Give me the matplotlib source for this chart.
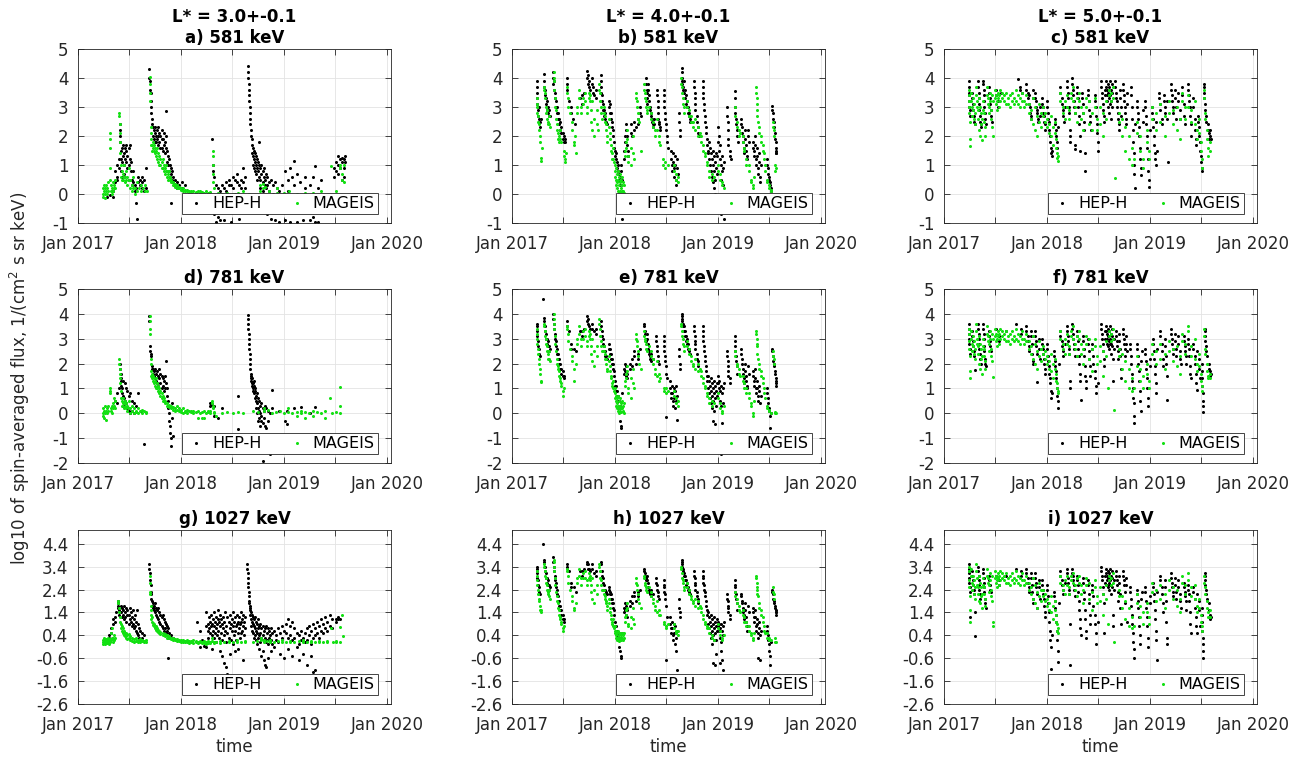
import datetime as dt
import matplotlib
matplotlib.use('Agg')
import matplotlib.pyplot as plt
import matplotlib.dates as mdates

plt.rcParams['font.family'] = 'DejaVu Sans'
plt.rcParams['axes.unicode_minus'] = False

# each row: (years since 1 Jan 2017, log10 flux values read at that time ...)
A_HEP = [
    (0.28, -0.1), (0.31, -0.05), (0.34, -0.1, 0.1),
    (0.36, 0.4, 0.8), (0.38, 0.5, 1.0, 0.6), (0.40, 1.2, 0.9),
    (0.41, 2.4, 2.2, 2.0, 1.8),
    (0.42, 1.5, 1.2, 0.8), (0.43, 1.6, 1.1, 0.6), (0.44, 1.7, 1.3), (0.45, 1.4, 1.0, 0.7), (0.46, 1.6, 1.2),
    (0.47, 1.7, 1.5, 1.1), (0.48, 1.3, 0.9), (0.49, 1.6, 1.0, 0.5), (0.50, 1.7, 1.2), (0.51, 1.1, 0.8),
    (0.52, 0.5, 0.3), (0.53, 0.8, 0.4), (0.55, 0.3, 0.1), (0.56, -0.3, 0.2), (0.57, -0.85), (0.58, 0.6, 0.4),
    (0.60, 0.5, 0.3), (0.62, 0.4, 0.6, 0.2), (0.64, 0.5, 0.1), (0.66, 0.2, 0.9),
    (0.69, 4.3, 4.0), (0.70, 3.9, 3.6), (0.705, 3.5, 3.2), (0.71, 3.0, 2.8), (0.72, 2.6, 2.4),
    (0.73, 2.3, 2.0), (0.74, 2.2, 1.9), (0.75, 2.1, 1.8, 2.3), (0.76, 2.0, 1.8), (0.77, 2.2, 1.9),
    (0.78, 2.3, 2.0, 1.7), (0.79, 2.1, 1.8), (0.80, 2.0, 1.6), (0.81, 2.2, 1.9, 1.6), (0.82, 1.9, 1.5),
    (0.83, 2.1, 1.7), (0.84, 1.8, 1.4), (0.85, 2.85, 2.0, 1.6),
    (0.86, 1.5, 1.1), (0.87, 1.3, 1.0), (0.88, 1.2, 0.8), (0.89, 1.0, 0.6), (0.90, -0.3, 0.7, 0.9),
    (0.91, 0.5, 0.8), (0.92, 0.4, 0.6), (0.94, 0.3, 0.5), (0.96, 0.4, 0.2), (0.98, 0.3), (1.01, 0.2, 0.4), (1.04, 0.3),
    (1.30, 1.9), (1.31, 1.0, 0.8), (1.32, 0.6, -0.7), (1.34, 0.3, -0.95), (1.36, 0.2, -0.8),
    (1.38, 0.1, -0.9), (1.40, 0.3), (1.42, 0.2, -0.9), (1.44, 0.4, 0.1), (1.46, 0.5, 0.3), (1.48, 0.3, -0.95),
    (1.50, 0.6, 0.2), (1.52, 0.5, 0.0), (1.54, 0.7, 0.4), (1.56, 0.3, -0.85), (1.58, 0.5, 0.2), (1.60, 0.9, 0.4),
    (1.62, 0.2, 0.6),
    (1.65, 4.4, 4.2, 4.0), (1.655, 3.8, 3.6), (1.66, 3.4, 3.2), (1.665, 3.0, 2.8), (1.67, 2.6, 2.4),
    (1.68, 2.2, 2.0), (1.69, 1.9, 1.7, 1.4), (1.70, 1.6, 1.3, 1.0), (1.71, 1.5, 1.2, 0.9), (1.72, 1.4, 1.1, 0.8),
    (1.73, 1.3, 1.0, 0.7), (1.74, 1.2, 0.9, 0.5), (1.75, 1.1, 0.8), (1.76, 1.8, 1.0, 0.6), (1.77, 0.9, 0.5, 0.2),
    (1.78, 1.0, 0.7), (1.79, 0.8, 0.4, 0.1), (1.80, 0.9, 0.6), (1.81, 0.5, 0.3), (1.82, 0.7, 0.2),
    (1.83, 0.6, 0.3, -0.7), (1.85, 0.4, 0.1), (1.87, 0.5, -0.85), (1.89, 0.3, 0.0), (1.91, 0.4, -0.9),
    (1.93, 0.2), (1.95, -0.95, 0.1),
    (1.98, 0.3), (2.01, 0.8, -0.9), (2.04, 0.5, 0.1), (2.06, 0.9, -0.95), (2.08, 0.6), (2.10, 1.15, 0.3),
    (2.12, 0.7, -0.95), (2.15, 0.4), (2.18, -0.9), (2.20, 0.6, 0.2), (2.25, -0.9, 0.3), (2.28, 0.6, -0.8),
    (2.30, 0.95, -0.95), (2.33, 0.2, -0.95), (2.36, 0.5),
    (2.48, 0.6, 0.9), (2.50, 1.1, 0.8), (2.52, 1.3, 1.0, 0.7), (2.54, 1.2, 0.9), (2.56, 1.25, 1.1, 0.5),
    (2.58, 1.2, 0.9, 0.6), (2.59, 1.3, 1.1),
]
A_MAG = [
    (0.24, 0.2, 0.0, -0.1), (0.25, 0.3, 0.1), (0.26, 0.0, 0.2, -0.15), (0.27, 0.1, 0.3), (0.28, 0.0, 0.2),
    (0.29, 0.4, 0.1), (0.31, 2.1, 1.9, 1.6, 0.9, 0.5), (0.32, 0.3, 0.1), (0.33, 0.2, 0.0), (0.34, 0.4, 0.1),
    (0.35, 0.3, 0.2), (0.36, 0.5, 0.2),
    (0.40, 2.8, 2.7), (0.405, 2.4, 2.1), (0.41, 1.8, 1.4), (0.42, 1.0, 0.6),
    (0.43, 0.8, 0.5), (0.44, 0.7, 0.5), (0.45, 1.0, 0.6), (0.46, 0.6, 0.4), (0.47, 0.8, 0.5), (0.48, 0.6, 0.3),
    (0.49, 0.9, 0.5), (0.50, 0.5, 0.2), (0.52, 0.3, 0.1), (0.53, 0.6, 0.2), (0.55, 0.2, 0.0), (0.57, 0.4, 0.1),
    (0.59, 0.2), (0.61, 0.3, 0.1), (0.63, 0.2), (0.65, 0.1, 0.3), (0.67, 0.1),
    (0.695, 4.05, 3.8), (0.70, 3.5, 3.2), (0.705, 2.3, 2.1), (0.71, 1.9, 1.7),
    (0.72, 1.7, 1.5), (0.73, 1.6, 1.8), (0.74, 1.5, 1.7), (0.75, 1.6, 1.4), (0.76, 1.5, 1.3), (0.77, 1.6, 1.2),
    (0.78, 1.4, 1.1), (0.79, 1.3, 1.0), (0.80, 1.2, 1.0), (0.81, 1.1, 0.9), (0.82, 1.2, 0.9), (0.83, 1.0, 0.8),
    (0.84, 0.9, 0.7), (0.85, 1.0, 0.8), (0.86, 0.8, 0.6), (0.87, 0.7, 0.5), (0.88, 0.8, 0.6), (0.89, 0.6, 0.5),
    (0.90, 0.5, 0.4), (0.92, 0.4, 0.3), (0.94, 0.35, 0.25), (0.96, 0.3, 0.2), (0.98, 0.25, 0.2), (1.00, 0.2, 0.15),
    (1.02, 0.2, 0.1), (1.04, 0.15, 0.1), (1.06, 0.15, 0.1), (1.08, 0.1, 0.05), (1.10, 0.12, 0.05), (1.12, 0.1),
    (1.14, 0.08, 0.05), (1.16, 0.1), (1.18, 0.05, 0.1), (1.20, 0.08), (1.22, 0.05), (1.24, 0.1), (1.26, 0.05),
    (1.28, 0.08), (1.305, 1.5, 1.3, 1.0), (1.31, 0.7, 0.4), (1.32, 0.2),
    (1.36, 0.05), (1.40, 0.0), (1.45, 0.05), (1.50, 0.0), (1.55, 0.05), (1.60, 0.1), (1.66, 0.0),
    (1.77, 0.3, 0.1), (1.79, 0.35, 0.2), (1.81, 0.25), (1.85, 0.1), (1.93, 0.2, 0.05), (2.00, 0.05),
    (2.05, 0.1), (2.12, 0.0), (2.20, 0.05), (2.28, 0.05), (2.36, 0.1),
    (2.45, 0.95), (2.50, 0.1), (2.54, 1.0, 0.9), (2.56, 0.7, 0.5), (2.58, 1.0, 0.4),
]

B_HEP = [
    (0.24, 3.9, 3.7, 3.5), (0.245, 3.3, 3.1), (0.25, 2.9, 2.7), (0.26, 3.0, 2.6), (0.27, 2.5, 2.3), (0.28, 2.6),
    (0.31, 4.15, 3.9, 3.7), (0.32, 3.6, 3.4), (0.33, 3.3, 3.1), (0.34, 3.2, 2.9), (0.35, 3.0, 2.8),
    (0.36, 2.9, 2.7), (0.37, 2.7),
    (0.40, 4.2, 4.0, 3.8), (0.41, 3.9, 3.6), (0.42, 3.5, 3.3), (0.43, 3.2, 3.0), (0.44, 3.0, 2.8),
    (0.45, 2.8, 2.6), (0.46, 2.6, 2.4), (0.47, 2.5, 2.2), (0.48, 2.3, 2.1), (0.49, 2.1, 1.9), (0.50, 2.0, 1.8),
    (0.51, 1.9, 1.8),
    (0.535, 4.0, 3.8, 3.6), (0.55, 3.2), (0.57, 3.0, 2.8), (0.59, 2.6), (0.61, 2.4),
    (0.66, 3.3), (0.68, 3.1, 3.4), (0.70, 3.5),
    (0.73, 4.25, 4.0), (0.74, 4.1, 3.8), (0.75, 3.9, 3.7), (0.76, 3.6),
    (0.78, 4.0, 3.8), (0.79, 3.7, 3.5), (0.80, 3.4), (0.81, 3.6, 3.3),
    (0.86, 4.1, 3.9), (0.865, 3.7, 3.5), (0.87, 3.4, 3.2), (0.88, 3.1, 2.9), (0.89, 2.9, 2.7), (0.90, 2.8, 2.6),
    (0.91, 2.5), (0.92, 2.4),
    (0.94, 3.2, 3.0), (0.95, 3.1, 2.8), (0.96, 2.8, 2.6), (0.97, 2.5, 2.3), (0.98, 2.2, 2.0), (0.99, 1.8, 1.6),
    (1.00, 1.5, 1.3), (1.01, 1.4, 1.2), (1.02, 1.1, 0.9), (1.03, 1.0, 0.8), (1.04, 0.7, 0.5), (1.05, 0.6, 0.3),
    (1.06, 0.8, 1.0), (1.07, -0.85, 0.5),
    (1.09, 1.5, 1.2), (1.10, 2.0, 1.8), (1.11, 2.4, 2.2), (1.12, 2.0, 1.7), (1.13, 1.5, 1.3), (1.15, 2.4, 2.1),
    (1.16, 2.0), (1.18, 2.5, 2.2), (1.20, 2.3), (1.22, 2.6, 2.4), (1.24, 3.0, 2.8), (1.25, 2.7),
    (1.30, 4.0, 3.8), (1.305, 3.6, 3.5), (1.31, 3.3, 3.1), (1.32, 3.8, 3.6), (1.33, 3.4, 3.2), (1.34, 3.0, 2.9),
    (1.35, 2.8, 2.7), (1.36, 2.6, 2.5), (1.37, 2.4, 2.3), (1.38, 2.6, 2.4),
    (1.41, 3.6, 3.4), (1.415, 3.2, 3.0), (1.42, 2.8, 2.6), (1.43, 2.5, 2.4), (1.44, 2.3, 2.2),
    (1.47, 3.6, 3.4), (1.475, 3.2, 3.0), (1.48, 2.8, 2.6), (1.49, 2.4, 2.2), (1.50, 2.0, 1.8), (1.51, 1.6),
    (1.54, 1.5, 1.2), (1.55, 1.0, 0.8), (1.56, 1.4, 1.1), (1.57, 0.9, 0.6), (1.58, 1.3, 1.0), (1.59, 0.5, 0.3),
    (1.60, 1.2, 0.9), (1.61, 0.7), (1.62, 2.8, 2.5), (1.63, 2.2, 2.0),
    (1.645, 4.35, 4.2, 4.0), (1.65, 3.9, 3.8), (1.66, 3.7, 3.6), (1.67, 3.9, 3.5), (1.68, 3.6, 3.3),
    (1.69, 3.4, 3.1), (1.70, 3.2, 3.0), (1.71, 3.0, 2.8), (1.72, 2.8, 2.7), (1.73, 2.6, 2.5), (1.74, 2.5),
    (1.77, 3.9, 3.7), (1.775, 3.5, 3.3), (1.78, 3.1, 2.9), (1.79, 2.7, 2.5), (1.80, 2.3, 2.1), (1.81, 2.0),
    (1.85, 3.9, 3.7), (1.855, 3.5, 3.3), (1.86, 3.1, 2.9), (1.87, 2.7, 2.5), (1.88, 2.3, 2.1), (1.89, 1.9, 1.7),
    (1.90, 1.5, 1.4), (1.91, 1.8, 1.2), (1.92, 1.6, 1.0), (1.93, 1.4, 0.8), (1.94, 1.2, 0.6),
    (1.95, 1.5, 1.0, 0.4), (1.96, 1.3, 0.8, 0.2), (1.97, 1.1, 0.5, 0.0), (1.98, 1.4, 0.9), (1.99, 1.3, 0.7),
    (2.00, 2.3, 1.8), (2.01, 2.0, 1.5), (2.02, 1.7, 1.2), (2.03, 1.0, 0.5, -0.7), (2.04, 1.3, 0.8),
    (2.05, 0.9, 0.3), (2.06, -0.85, 1.1),
    (2.09, 3.0, 2.7), (2.095, 2.5, 2.2), (2.10, 1.9, 1.7), (2.11, 1.5, 1.3), (2.12, 1.2),
    (2.16, 3.55, 3.3), (2.165, 3.0, 2.8), (2.17, 2.6, 2.4), (2.18, 2.2, 2.0), (2.19, 1.8),
    (2.22, 2.6, 2.4), (2.23, 2.3, 2.1), (2.24, 2.0, 1.8), (2.25, 1.6, 1.4), (2.26, 2.2, 1.9), (2.27, 1.7, 1.5),
    (2.28, 1.3, 1.2), (2.29, 2.2, 2.0), (2.30, 1.8),
    (2.34, 1.8, 1.6), (2.35, 1.5, 1.3), (2.36, 2.0, 1.7), (2.37, 1.2, 1.0), (2.38, 1.6, 1.3), (2.39, 0.9, 0.7),
    (2.40, 1.4, 1.1), (2.41, 0.6, 0.4), (2.42, 1.0),
    (2.47, 1.2, 1.0), (2.48, 0.9, 0.7), (2.49, 0.6, 0.5), (2.50, 0.4, 0.3), (2.51, 0.2, 0.1),
    (2.52, 3.05, 2.9), (2.53, 2.8, 2.6), (2.54, 2.5, 2.3), (2.55, 2.1, 1.9), (2.56, 1.8, 1.6, 1.4),
    (2.565, 1.5, 1.4),
]
B_MAG = [
    (0.24, 3.3, 3.1), (0.245, 3.0, 2.8), (0.25, 2.7, 2.5), (0.26, 2.4, 2.2), (0.27, 2.0, 1.8), (0.28, 1.25, 1.15),
    (0.29, 1.6),
    (0.31, 3.7, 3.6), (0.32, 3.5, 3.3), (0.33, 3.0, 2.8), (0.34, 2.9, 2.6), (0.35, 2.5, 2.4), (0.36, 2.7, 2.4),
    (0.37, 2.3),
    (0.405, 4.2, 4.0), (0.41, 3.9, 3.6), (0.42, 3.3, 3.0), (0.43, 2.9, 2.6),
    (0.44, 2.4, 2.2), (0.45, 2.1, 1.9), (0.46, 2.0, 1.8), (0.47, 2.2, 1.9), (0.48, 1.8), (0.50, 1.5, 1.3),
    (0.51, 1.2, 1.1), (0.52, 1.4),
    (0.535, 3.7, 3.5), (0.54, 3.3, 3.0), (0.56, 2.8), (0.58, 2.5, 2.2), (0.60, 1.8, 1.7), (0.61, 2.0), (0.62, 1.4),
    (0.63, 3.0, 2.8), (0.65, 3.6, 3.3), (0.67, 3.0, 2.8), (0.69, 3.3, 3.1), (0.71, 3.5, 3.2), (0.73, 3.0, 2.8),
    (0.75, 3.5, 3.3), (0.76, 3.4, 3.2), (0.77, 2.9, 2.5), (0.78, 3.2, 2.2), (0.80, 2.6, 2.0), (0.82, 2.9, 2.4),
    (0.83, 2.2),
    (0.84, 3.8, 3.6), (0.85, 3.5, 3.2), (0.86, 3.0, 2.8), (0.87, 2.6),
    (0.89, 3.0, 2.8), (0.90, 2.7, 2.5), (0.91, 2.4, 2.2), (0.92, 2.0, 1.8), (0.94, 2.6, 2.3), (0.95, 2.1, 1.9),
    (0.96, 1.7, 1.5), (0.97, 1.4, 1.2), (0.98, 1.6, 1.2), (0.99, 1.1),
    (1.00, 1.0, 0.8, 0.6), (1.01, 0.9, 0.5, 0.3), (1.02, 0.7, 0.4, 0.2), (1.03, 0.8, 0.5, 0.1),
    (1.04, 0.6, 0.3, 0.05), (1.05, 0.7, 0.4, 0.1), (1.06, 0.5, 0.2, 0.05), (1.07, 0.6, 0.3, 0.1),
    (1.08, 0.4, 0.1), (1.09, 0.3, 0.05),
    (1.10, 1.5, 1.3), (1.11, 1.8, 1.6), (1.12, 2.2, 1.9), (1.13, 1.3, 1.1), (1.15, 1.0, 1.6), (1.17, 2.0, 1.4),
    (1.18, 1.2),
    (1.20, 3.5, 3.3), (1.21, 3.2, 3.0), (1.22, 2.8, 2.6), (1.23, 2.5), (1.25, 1.5),
    (1.28, 3.8, 3.6), (1.29, 3.5, 3.3), (1.30, 3.2, 3.0), (1.31, 2.9, 2.8), (1.33, 3.0),
    (1.35, 2.8, 2.6), (1.37, 2.5, 2.3), (1.39, 2.2, 2.0), (1.41, 2.6, 2.2), (1.43, 1.8, 2.0), (1.44, 1.7),
    (1.46, 1.2, 1.0), (1.48, 0.9, 1.1), (1.51, 1.0),
    (1.57, 1.0, 0.8), (1.59, 0.7, 0.5), (1.61, 0.4, 0.6),
    (1.64, 4.0, 3.8), (1.65, 3.7, 3.5), (1.66, 3.3, 3.1), (1.67, 3.0, 2.8),
    (1.70, 3.2, 3.0), (1.72, 2.9, 2.7), (1.74, 2.7, 2.5), (1.76, 2.5, 2.3), (1.78, 2.6, 2.2), (1.80, 2.0, 2.3),
    (1.82, 2.1),
    (1.83, 2.0, 1.8), (1.85, 1.7, 1.5), (1.87, 1.4, 1.3), (1.89, 1.1, 1.0),
    (1.91, 0.8, 0.6), (1.94, 0.7, 0.5), (1.96, 0.6),
    (2.00, 1.0, 0.8), (2.02, 0.7, 0.5), (2.04, 0.4, 0.3), (2.06, 0.2),
    (2.16, 3.0, 2.7), (2.18, 2.5, 2.3), (2.20, 2.2, 2.0), (2.21, 2.1),
    (2.24, 2.0, 1.8), (2.25, 1.6, 1.5), (2.27, 1.0, 1.2),
    (2.30, 1.0, 0.8), (2.32, 0.5, 0.4), (2.34, 0.3, 0.2), (2.35, 0.6),
    (2.37, 3.7, 3.5), (2.375, 3.3, 3.1), (2.38, 2.9, 2.7), (2.39, 2.5),
    (2.40, 2.3, 2.1), (2.42, 2.0, 1.8), (2.43, 1.7, 1.5), (2.44, 1.4, 1.2), (2.45, 1.0, 0.8),
    (2.47, 0.5, 0.4), (2.49, 0.3, 0.2), (2.51, 0.1, 0.15),
    (2.53, 2.5, 2.3), (2.54, 2.2, 2.0), (2.55, 1.0, 0.8), (2.56, 0.9),
]

C_HEP = [
    (0.24, 3.9, 3.7, 3.5), (0.245, 3.4, 3.2, 3.0), (0.25, 2.9, 2.7),
    (0.27, 3.5, 3.3), (0.28, 3.1, 2.9), (0.29, 2.7, 2.5), (0.30, 2.4),
    (0.33, 3.9, 3.7), (0.335, 3.5, 3.3), (0.34, 3.1, 2.9), (0.35, 2.7, 2.5), (0.36, 2.4, 2.3),
    (0.38, 3.9, 3.8), (0.385, 3.6, 3.4), (0.39, 3.2, 3.0), (0.40, 2.8, 2.6), (0.41, 2.4),
    (0.44, 3.7, 3.5), (0.45, 3.3, 3.1), (0.46, 2.9, 2.7), (0.47, 2.5),
    (0.50, 3.6, 3.4), (0.52, 3.2, 3.0), (0.55, 3.5),
    (0.72, 3.95), (0.74, 3.7, 3.6), (0.76, 3.5),
    (0.80, 3.8, 3.6), (0.81, 3.5, 3.3), (0.82, 3.4, 3.1), (0.83, 3.0, 2.8), (0.84, 2.7, 2.6), (0.86, 3.6, 3.3),
    (0.88, 3.5, 3.3), (0.89, 3.2, 3.0), (0.90, 2.9, 2.8), (0.91, 2.6, 2.5), (0.93, 3.0, 2.7),
    (0.95, 3.3, 3.1), (0.96, 3.0, 2.8), (0.97, 2.7, 2.5), (0.98, 2.4, 2.2),
    (1.00, 3.2, 3.0), (1.01, 2.8, 2.6), (1.02, 2.5, 2.2), (1.03, 2.0, 1.8), (1.04, 1.6, 1.4), (1.05, 1.3, 1.5),
    (1.08, 2.6, 2.4), (1.09, 2.2, 2.0), (1.10, 1.8, 1.6), (1.11, 2.3),
    (1.13, 3.7, 3.5), (1.14, 3.3, 3.1), (1.15, 2.9, 2.7), (1.16, 2.5), (1.17, 3.0),
    (1.19, 3.9, 3.7), (1.20, 3.5, 3.3), (1.21, 3.0, 2.8), (1.22, 2.2, 2.0, 1.8),
    (1.24, 4.0, 3.8), (1.25, 3.6, 3.4), (1.26, 3.2, 3.0), (1.27, 2.8, 1.55, 1.7),
    (1.29, 3.7, 3.5), (1.30, 3.3, 3.0), (1.31, 2.7, 2.4), (1.32, 2.0, 1.5),
    (1.34, 3.5, 3.3), (1.35, 3.1, 2.8), (1.36, 2.5, 2.2), (1.37, 1.4, 0.8),
    (1.40, 3.6, 3.4), (1.41, 3.2, 2.9), (1.42, 2.7, 2.5), (1.43, 2.2),
    (1.46, 3.4, 3.2), (1.47, 3.0, 2.7), (1.48, 2.4, 2.1), (1.49, 1.8, 1.5),
    (1.52, 3.9, 3.7), (1.53, 3.5, 3.3), (1.54, 3.1, 2.9), (1.55, 2.7, 2.5), (1.56, 3.6, 3.4),
    (1.57, 3.9, 3.7), (1.58, 3.6, 3.4, 3.2), (1.59, 3.8, 3.5, 3.0), (1.60, 3.7, 3.3, 2.8),
    (1.61, 3.9, 3.4, 3.1), (1.62, 3.6, 3.2, 2.6), (1.63, 3.8, 3.5, 3.0),
    (1.66, 3.9, 3.7), (1.67, 3.5, 3.3), (1.68, 3.2, 3.0), (1.69, 2.8, 2.6), (1.70, 2.4, 2.2), (1.71, 3.6, 3.3),
    (1.72, 3.0, 2.7),
    (1.74, 3.8, 3.6), (1.75, 3.4, 3.2), (1.76, 3.0, 2.8), (1.77, 2.6, 2.4), (1.78, 3.5, 3.1),
    (1.81, 3.7, 3.4), (1.82, 3.0, 2.6), (1.83, 2.2, 1.8), (1.84, 1.4, 1.0, 0.7), (1.85, 0.2, 2.4),
    (1.87, 3.2, 3.0), (1.88, 2.8, 2.6), (1.89, 2.3, 2.0), (1.90, 1.6, 1.2), (1.91, 0.9, 0.65), (1.93, 2.9, 2.5),
    (1.95, 3.2, 3.0), (1.96, 2.7, 2.4), (1.97, 2.0, 1.6), (1.98, 1.2, 0.8), (1.99, 0.5, 0.25), (2.00, 2.2),
    (2.02, 3.0, 2.8), (2.03, 2.6, 2.3), (2.04, 2.0, 1.7), (2.05, 1.4, 1.2), (2.06, 1.0, 2.5), (2.07, 1.5),
    (2.09, 3.5, 3.3), (2.10, 3.1, 2.9), (2.11, 2.6, 2.4), (2.13, 3.4, 3.2), (2.14, 3.0, 2.8), (2.16, 3.2, 2.6),
    (2.17, 1.1),
    (2.20, 3.8, 3.6), (2.21, 3.4, 3.2), (2.22, 3.0, 2.8), (2.24, 3.6, 3.3), (2.25, 3.0, 2.6), (2.27, 3.5, 3.2),
    (2.29, 2.9, 2.6), (2.31, 3.7, 3.4), (2.33, 3.1, 2.7), (2.34, 2.4),
    (2.37, 3.8, 3.6), (2.38, 3.4, 3.2), (2.39, 3.0, 2.7), (2.40, 2.4, 2.0), (2.42, 3.3, 3.0), (2.43, 2.6, 2.2),
    (2.44, 1.9, 1.7),
    (2.46, 2.7, 2.5), (2.47, 2.3, 2.0), (2.48, 1.8, 1.5), (2.49, 1.3, 1.1), (2.50, 0.9, 0.8),
    (2.52, 3.8, 3.7), (2.525, 3.5, 3.3), (2.53, 3.1, 2.9), (2.54, 2.7, 2.5),
    (2.56, 2.4, 2.2), (2.57, 2.1, 1.9), (2.58, 2.2, 2.0), (2.59, 1.9),
]
C_MAG = [
    (0.24, 3.6, 3.4, 3.2), (0.245, 3.0, 2.8), (0.25, 2.5, 1.9, 1.65), (0.26, 3.5, 3.2), (0.27, 3.0, 2.7),
    (0.28, 3.3, 2.9), (0.29, 3.1, 2.6), (0.30, 2.8, 2.4),
    (0.31, 3.7, 3.4), (0.32, 3.2, 3.0), (0.33, 2.9, 2.6), (0.34, 3.3, 2.2), (0.35, 3.0, 2.0), (0.36, 2.8, 2.4),
    (0.37, 2.6, 1.85), (0.38, 3.2, 2.9), (0.39, 2.8, 2.5), (0.40, 2.3, 2.0),
    (0.42, 3.7, 3.4), (0.43, 3.3, 3.1), (0.44, 3.0, 2.8), (0.45, 3.5, 3.2), (0.46, 2.9, 2.6), (0.47, 3.4, 2.3),
    (0.48, 3.2, 2.0), (0.49, 3.6, 3.3), (0.50, 3.4, 3.1), (0.51, 3.2, 2.9), (0.52, 3.5, 3.3), (0.53, 3.4, 3.0),
    (0.54, 3.6, 3.2),
    (0.56, 3.5, 3.3), (0.58, 3.4, 3.2), (0.60, 3.5, 3.1), (0.62, 3.3, 3.1), (0.64, 3.4, 3.0), (0.66, 3.5, 3.2),
    (0.68, 3.3, 3.1), (0.70, 3.6, 3.2), (0.72, 3.4, 3.1), (0.74, 3.3, 3.0), (0.76, 3.5, 3.2), (0.78, 3.2, 3.0),
    (0.80, 3.4, 3.1), (0.82, 3.1, 2.8), (0.84, 2.9, 2.6), (0.86, 3.3, 2.4), (0.88, 3.0, 2.2), (0.90, 2.7, 2.0),
    (0.92, 3.1, 2.5), (0.94, 2.8, 2.3),
    (0.96, 3.0, 2.7), (0.98, 2.8, 2.5), (1.00, 2.6, 2.3), (1.02, 2.4, 2.1), (1.04, 2.7, 2.0), (1.06, 2.3, 1.7),
    (1.08, 2.5, 2.1), (1.09, 1.9, 1.6), (1.10, 1.4, 1.25), (1.11, 1.15, 1.3),
    (1.13, 3.5, 3.2), (1.15, 3.0, 2.8), (1.17, 3.2, 2.6), (1.19, 3.4, 3.0), (1.21, 2.9, 2.6), (1.23, 3.5, 3.3),
    (1.25, 3.7, 3.2), (1.27, 3.0, 2.8), (1.29, 3.3, 2.5),
    (1.31, 3.5, 3.2), (1.33, 3.0, 2.6), (1.35, 2.8, 2.2), (1.38, 3.3, 3.0), (1.41, 3.2, 2.4), (1.44, 2.8, 2.2),
    (1.46, 3.3, 3.0), (1.48, 2.6, 2.2), (1.51, 3.0, 2.4), (1.54, 2.8, 2.0), (1.57, 3.2, 2.6),
    (1.60, 3.6, 3.4), (1.62, 3.5, 3.2), (1.64, 3.7, 3.3), (1.66, 0.55),
    (1.70, 2.8, 2.5), (1.73, 2.6, 2.0), (1.76, 2.3, 1.5), (1.79, 2.0, 1.2), (1.82, 1.6, 1.0), (1.84, 1.2),
    (1.87, 2.5, 2.1), (1.90, 2.0, 1.5), (1.93, 1.2, 0.9), (1.97, 2.2, 1.8), (1.99, 1.5, 1.2),
    (2.02, 3.0, 2.6), (2.06, 2.8, 2.2), (2.10, 3.1, 2.5), (2.14, 2.7, 2.0), (2.18, 3.2, 2.8), (2.22, 2.9, 2.4),
    (2.26, 3.0, 2.2), (2.29, 2.6, 1.9),
    (2.31, 3.5, 3.2), (2.34, 3.0, 2.6), (2.37, 3.4, 3.0), (2.40, 2.9, 2.5), (2.43, 3.2, 2.4), (2.45, 2.2, 1.9),
    (2.47, 2.6, 2.1), (2.49, 1.8, 1.5),
    (2.50, 1.2, 0.9), (2.52, 3.6, 3.3), (2.53, 2.8, 2.6), (2.55, 2.2, 1.9), (2.56, 1.6, 1.3), (2.58, 1.8, 1.5),
]

D_HEP = [
    (0.36, 0.5), (0.38, 0.8, 0.4), (0.40, 1.0),
    (0.41, 2.0, 1.8), (0.415, 1.6, 1.4), (0.42, 1.3, 1.1), (0.43, 1.0, 0.8), (0.44, 1.3, 0.7), (0.45, 0.6, 0.3),
    (0.46, 1.2, 0.5), (0.47, 1.0, 0.4), (0.48, 0.9, 0.2), (0.49, 0.7, 0.1), (0.50, 0.8, 0.0), (0.52, 0.5, 0.1),
    (0.54, 0.4, 0.0), (0.56, 0.3),
    (0.58, 0.8), (0.61, 0.1), (0.64, -1.25),
    (0.69, 3.9, 3.7), (0.70, 2.7, 2.5), (0.705, 2.4, 2.3),
    (0.72, 1.9, 1.8), (0.73, 1.8, 1.6), (0.74, 1.7, 1.5), (0.75, 1.8, 1.4), (0.76, 1.6, 1.3), (0.77, 1.7, 1.2),
    (0.78, 1.5, 1.1), (0.79, 1.8, 1.4), (0.80, 1.6, 1.2), (0.81, 1.5, 1.0), (0.82, 1.4, 1.1), (0.83, 1.3, 0.9),
    (0.84, 1.5, 1.0), (0.85, 2.1, 1.2),
    (0.86, 1.0, 0.7), (0.87, 0.5, 0.2), (0.88, 0.0, -0.3), (0.89, -0.5, -0.8), (0.90, -1.0, -1.3),
    (0.91, -0.2, 0.4), (0.92, -0.9),
    (1.28, 0.4, 0.3), (1.30, 0.35), (1.32, -0.1, 0.3), (1.36, -0.2), (1.40, 0.2),
    (1.55, 0.7, -0.65),
    (1.645, 3.95, 3.8), (1.65, 3.6, 3.4), (1.655, 3.2, 3.0), (1.66, 2.8, 2.6), (1.665, 2.4, 2.2),
    (1.67, 2.0, 1.8), (1.675, 1.6, 1.5), (1.68, 1.4, 1.3), (1.69, 1.2, 1.1, 1.4), (1.70, 1.0, 0.9, 1.2),
    (1.71, 1.1, 0.8, 1.3), (1.72, 0.9, 0.6, 1.0), (1.73, 0.7, 0.5, 0.2), (1.74, 0.8, 0.4, 0.0),
    (1.75, 0.6, 0.2, -0.3), (1.76, 0.5, 0.1, -0.2), (1.77, 0.3, 0.0, -0.5), (1.78, 0.4, -0.1, -0.3),
    (1.79, 0.2, -0.4, -1.9), (1.80, 0.1, -0.2), (1.81, 0.3, -0.5), (1.82, 0.2, -0.6), (1.84, 0.1, -0.3),
    (1.86, -1.65, 0.0), (1.88, 0.95, 0.2),
    (1.95, 0.1), (2.01, -0.3), (2.03, -0.45, 0.1), (2.10, 0.2), (2.16, 0.25), (2.25, 0.0), (2.30, 0.25),
]
D_MAG = [
    (0.24, 0.2, 0.0, -0.1), (0.25, 0.1, -0.2), (0.26, 0.3, 0.0), (0.27, 0.1, -0.25), (0.28, 0.2, 0.0),
    (0.29, 0.3, 0.1),
    (0.31, 1.0, 0.9, 0.8), (0.32, 0.2, 0.1), (0.33, 0.3, 0.0), (0.34, 0.4, 0.2), (0.35, 0.6, 0.3), (0.36, 0.5, 0.2),
    (0.40, 2.2, 2.0), (0.405, 1.8, 1.6), (0.41, 1.4, 1.2), (0.42, 0.9, 0.6),
    (0.43, 0.5, 0.3), (0.44, 0.6, 0.4), (0.45, 0.4, 0.2), (0.46, 0.5, 0.3), (0.47, 0.4, 0.2), (0.48, 0.3, 0.1),
    (0.49, 0.5, 0.2), (0.50, 0.2, 0.0),
    (0.52, 0.3, 0.1), (0.54, 0.2, 0.0), (0.56, 0.1, 0.05), (0.58, 0.2, 0.0), (0.60, 0.1), (0.62, 0.15, 0.0),
    (0.64, 0.1), (0.66, 0.05, 0.0),
    (0.695, 3.9, 3.7), (0.70, 3.4, 3.2), (0.705, 2.2, 2.0),
    (0.71, 1.7, 1.5), (0.72, 1.6, 1.4), (0.73, 1.5, 1.3), (0.74, 1.4, 1.2), (0.75, 1.3, 1.1), (0.76, 1.4, 1.0),
    (0.77, 1.2, 1.0), (0.78, 1.1, 0.9), (0.79, 1.0, 0.8), (0.80, 0.9, 0.7), (0.81, 0.8, 0.6), (0.82, 0.7, 0.5),
    (0.83, 0.6, 0.5), (0.84, 0.5, 0.4), (0.86, 0.4, 0.3), (0.88, 0.35, 0.25), (0.90, 0.3, 0.2),
    (0.92, 0.25, 0.15), (0.94, 0.2, 0.1), (0.96, 0.3, 0.15), (0.98, 0.2, 0.1),
    (1.00, 0.15, 0.05), (1.02, 0.2, 0.0), (1.04, 0.1, 0.05), (1.06, 0.15, 0.0), (1.08, 0.1), (1.10, 0.05, 0.1),
    (1.12, 0.0, 0.1), (1.14, 0.05), (1.16, 0.1, -0.2), (1.18, 0.0), (1.20, 0.05, -0.2), (1.22, 0.1, -0.2),
    (1.24, 0.0), (1.26, 0.05, 0.1), (1.28, 0.1, 0.0),
    (1.30, 0.5, 0.4), (1.305, 0.3, 0.2), (1.32, 0.0, 0.05), (1.34, -0.1),
    (1.40, 0.0), (1.45, 0.05), (1.50, 0.0), (1.55, 0.05), (1.60, 0.0),
    (1.70, 0.1), (1.75, 0.05), (1.80, 0.2, 0.1), (1.84, 0.15), (1.88, 0.0), (1.92, 0.05), (1.96, 0.1),
    (2.00, 0.0), (2.04, 0.2, 0.05), (2.08, 0.0), (2.12, 0.05, -0.1), (2.16, 0.0, 0.1), (2.20, -0.2, 0.05),
    (2.24, 0.0), (2.28, 0.1, -0.1), (2.32, 0.05), (2.36, 0.0), (2.40, 0.1, -0.2), (2.44, 0.6), (2.46, 0.0),
    (2.50, 0.05), (2.54, 1.05, 0.3, 0.0),
]

E_HEP = [
    (0.24, 3.6, 3.5), (0.245, 3.3, 3.1), (0.25, 2.9, 2.7), (0.26, 2.6, 2.4), (0.27, 2.3),
    (0.30, 4.6),
    (0.31, 3.85, 3.7), (0.32, 3.5, 3.3), (0.33, 3.2, 3.0), (0.34, 3.0, 2.8), (0.35, 2.9, 2.7), (0.36, 2.7, 2.5),
    (0.37, 2.6),
    (0.40, 4.0, 3.8), (0.41, 3.6, 3.4), (0.42, 3.2, 3.0), (0.43, 2.9, 2.7), (0.44, 2.6, 2.4), (0.45, 2.4, 2.2),
    (0.46, 2.2, 2.0), (0.47, 2.0, 1.8), (0.48, 1.8, 1.6), (0.49, 1.7, 1.5), (0.50, 1.5, 1.4),
    (0.535, 3.7, 3.5), (0.55, 3.3), (0.57, 2.8, 2.6), (0.60, 2.6), (0.62, 2.5),
    (0.66, 3.3), (0.68, 3.1, 3.3), (0.70, 3.4),
    (0.73, 3.9, 3.7), (0.74, 3.8, 3.6), (0.75, 3.5), (0.76, 3.4),
    (0.78, 3.6, 3.4), (0.80, 3.3), (0.81, 3.4, 3.2),
    (0.86, 3.7, 3.5), (0.87, 3.3, 3.1), (0.88, 3.0, 2.8), (0.89, 2.7, 2.5), (0.90, 2.5, 2.3), (0.91, 2.3),
    (0.92, 2.2),
    (0.94, 2.8, 2.6), (0.95, 2.6, 2.4), (0.96, 2.4, 2.2), (0.97, 2.2, 2.0), (0.98, 2.0, 1.8), (0.99, 1.7, 1.5),
    (1.00, 1.3, 1.1), (1.01, 1.1, 0.9), (1.02, 0.9, 0.7), (1.03, 0.7, 0.5), (1.04, 0.5, 0.2), (1.05, -0.3, 0.3),
    (1.06, -0.6, -0.5), (1.07, 0.8),
    (1.09, 1.8, 1.6), (1.10, 2.0, 1.7), (1.11, 1.9, 1.5), (1.12, 1.6, 1.4), (1.14, 2.0, 1.8), (1.16, 2.2, 1.9),
    (1.18, 2.5, 2.3), (1.20, 2.0), (1.22, 2.2, 2.4), (1.24, 2.6),
    (1.28, 3.6, 3.5), (1.29, 3.3, 3.2), (1.30, 3.0, 2.9), (1.31, 3.2, 3.0), (1.32, 2.8, 2.6), (1.33, 2.5, 2.4),
    (1.34, 2.3, 2.2), (1.35, 2.4, 2.1), (1.37, 2.2),
    (1.40, 3.1, 2.9), (1.41, 2.7, 2.5), (1.42, 2.3, 2.1), (1.43, 2.0),
    (1.47, 3.1, 2.9), (1.475, 2.7, 2.5), (1.48, 2.3, 2.1), (1.49, 1.9, 1.6, -0.15), (1.50, 1.4),
    (1.53, 1.3, 1.0), (1.54, 0.8, 0.6), (1.55, 1.1, 0.8), (1.56, 0.5, 0.3), (1.57, 1.0, 0.6), (1.58, 0.2, 0.9),
    (1.59, 0.5, 1.1), (1.60, -0.25, 0.7),
    (1.62, 2.6, 2.3), (1.63, 2.0, 1.8),
    (1.645, 4.0, 3.9), (1.65, 3.8, 3.7), (1.66, 3.6, 3.5), (1.67, 3.5, 3.3), (1.68, 3.3, 3.1), (1.69, 3.1, 2.9),
    (1.70, 3.0, 2.8), (1.71, 2.8, 2.6), (1.72, 2.6, 2.5), (1.73, 2.4),
    (1.77, 3.5, 3.3), (1.775, 3.1, 2.9), (1.78, 2.8, 2.6), (1.79, 2.4, 2.2), (1.80, 2.1, 1.9),
    (1.85, 3.5, 3.3), (1.855, 3.1, 2.9), (1.86, 2.7, 2.5), (1.87, 2.3, 2.1), (1.88, 1.9, 1.7), (1.89, 1.5, 1.3),
    (1.90, 1.5, 1.0), (1.91, 1.3, 0.8), (1.92, 1.1, 0.6), (1.93, 1.4, 0.9, 0.4), (1.94, 1.2, 0.7, 0.2),
    (1.95, 1.0, 0.5, -0.3), (1.96, 1.3, 0.8, 0.1), (1.97, 1.1, 0.6, -0.45), (1.98, 0.9, 0.3), (1.99, 1.2, 0.7),
    (2.00, 1.5, 1.2), (2.01, 1.3, 1.0), (2.02, 0.9, 0.5), (2.03, 1.1, 0.3, -1.65), (2.04, 0.8, -0.4),
    (2.05, 1.0, 0.4), (2.06, 1.2),
    (2.09, 2.5, 2.3), (2.095, 2.1, 1.9), (2.10, 1.7, 1.5), (2.11, 1.4, 1.2),
    (2.16, 3.1, 2.9), (2.165, 2.7, 2.5), (2.17, 2.3, 2.1), (2.18, 1.9, 1.6),
    (2.22, 2.6, 2.4), (2.23, 2.2, 2.0), (2.24, 1.8, 1.6), (2.25, 1.4, 1.2), (2.26, 2.0, 1.7), (2.27, 1.5, 1.3),
    (2.28, 1.1, 1.0), (2.29, 1.9), (2.30, 1.6),
    (2.34, 1.7, 1.5), (2.35, 1.3, 1.1), (2.36, 1.8, 1.4), (2.37, 1.0, 0.8), (2.38, 1.3, 1.0), (2.39, 0.7, 0.5),
    (2.40, 1.1, 0.9), (2.41, 0.4), (2.42, 0.7),
    (2.47, 1.0, 0.8), (2.48, 0.6, 0.4), (2.49, 0.2, 0.1), (2.50, -0.1, -0.6), (2.51, 0.0),
    (2.52, 2.6, 2.5), (2.53, 2.3, 2.1), (2.54, 2.0, 1.9), (2.55, 1.7, 1.6), (2.56, 1.4, 1.3), (2.565, 1.1, 1.2),
]
E_MAG = [
    (0.24, 3.4, 3.2), (0.245, 3.0, 2.8), (0.25, 2.6, 2.4), (0.26, 2.2, 2.0), (0.27, 1.8, 1.6), (0.28, 1.25, 1.3),
    (0.31, 3.6, 3.5), (0.32, 3.3, 3.1), (0.33, 3.0, 2.8), (0.34, 2.7, 2.5), (0.35, 2.4, 2.2), (0.36, 2.5, 2.2),
    (0.37, 2.1),
    (0.405, 4.0, 3.8), (0.41, 3.6, 3.4), (0.42, 3.1, 2.8), (0.43, 2.5),
    (0.44, 2.2, 2.0), (0.45, 1.9, 1.8), (0.46, 1.7, 1.5), (0.47, 1.4, 1.3), (0.48, 1.1, 1.2), (0.49, 0.9, 0.7),
    (0.50, 1.0),
    (0.535, 3.5, 3.4), (0.54, 3.2, 2.9), (0.56, 2.6), (0.58, 2.3, 2.1), (0.60, 1.8, 1.3), (0.62, 2.0),
    (0.63, 3.0, 2.8), (0.65, 3.5, 3.2), (0.67, 3.0, 2.7), (0.69, 3.3, 3.0), (0.71, 3.4, 3.1), (0.73, 2.9, 2.7),
    (0.75, 3.3, 3.1), (0.76, 3.2, 3.0), (0.77, 2.7, 2.4), (0.78, 3.0, 2.1), (0.80, 2.5, 1.9), (0.82, 2.7, 2.3),
    (0.84, 3.8, 3.6), (0.85, 3.4, 3.1), (0.86, 2.9, 2.7), (0.87, 2.5),
    (0.89, 2.7, 2.5), (0.90, 2.4, 2.2), (0.91, 2.2, 2.0), (0.92, 1.8, 1.7), (0.94, 2.3, 2.1), (0.95, 1.9, 1.7),
    (0.96, 1.5, 1.4), (0.97, 1.2, 1.1), (0.98, 1.3, 1.0), (0.99, 0.9),
    (1.00, 1.0, 0.8, 0.6), (1.01, 0.7, 0.5, 0.3), (1.02, 0.6, 0.4, 0.2), (1.03, 0.7, 0.3, 0.1),
    (1.04, 0.5, 0.2, 0.0), (1.05, 0.6, 0.3, 0.1), (1.06, 0.4, 0.2, 0.05), (1.07, 0.5, 0.2), (1.08, 0.3, 0.1),
    (1.09, 0.4, 0.0),
    (1.10, 1.3, 1.1), (1.11, 1.6, 1.4), (1.12, 1.9, 1.7), (1.13, 1.0, 0.8), (1.15, 0.6, 1.4), (1.17, 1.8, 1.2),
    (1.18, 1.0),
    (1.20, 3.2, 3.0), (1.21, 2.9, 2.7), (1.22, 2.5, 2.3), (1.23, 2.0), (1.25, 1.8),
    (1.28, 3.3, 3.1), (1.29, 3.0, 2.9), (1.30, 2.8, 2.6), (1.31, 2.5), (1.33, 2.7),
    (1.35, 2.5, 2.3), (1.37, 2.2, 2.0), (1.39, 1.8, 1.6), (1.41, 2.1, 1.5), (1.43, 1.3, 1.6), (1.44, 1.4),
    (1.47, 1.0, 0.9), (1.49, 0.8, 1.0), (1.51, 0.9),
    (1.57, 0.9, 0.7), (1.59, 0.6, 0.4), (1.61, 0.3, 0.5),
    (1.64, 3.6, 3.5), (1.65, 3.3, 3.1), (1.66, 3.0, 2.8), (1.67, 2.7, 2.5),
    (1.70, 2.9, 2.7), (1.72, 2.6, 2.4), (1.74, 2.3, 2.1), (1.76, 2.0, 1.9), (1.78, 2.2, 1.8), (1.80, 1.7, 2.0),
    (1.82, 1.8),
    (1.83, 1.7, 1.5), (1.85, 1.4, 1.2), (1.87, 1.1, 1.0), (1.89, 0.8, 0.7),
    (1.91, 0.6, 0.4), (1.94, 0.5, 0.3), (1.96, 0.4),
    (2.00, 0.8, 0.6), (2.02, 0.4, 0.2), (2.04, 0.0, 0.1), (2.06, 0.3),
    (2.16, 2.5, 2.3), (2.18, 2.0, 1.9), (2.20, 1.8, 1.6), (2.21, 1.5),
    (2.24, 1.5, 1.3), (2.25, 1.2, 1.0), (2.27, 0.8, 1.0),
    (2.30, 0.8, 0.6), (2.32, 0.4, 0.3), (2.34, 0.0, -0.1), (2.35, 0.5),
    (2.37, 3.3, 3.2), (2.375, 3.0, 2.8), (2.38, 2.7, 2.4), (2.39, 2.2),
    (2.40, 2.0, 1.8), (2.42, 1.7, 1.5), (2.43, 1.4, 1.2), (2.44, 1.0, 0.8), (2.45, 0.6),
    (2.47, 0.3, 0.2), (2.49, 0.1, 0.15), (2.51, 0.0),
    (2.53, 2.5, 2.3), (2.54, 2.2, 2.0), (2.55, 0.0, 0.05), (2.56, 0.0),
]

F_HEP = [
    (0.24, 3.6, 3.4, 3.2), (0.245, 3.0, 2.8), (0.25, 2.6, 2.4),
    (0.27, 3.3, 3.1), (0.28, 2.9, 2.7), (0.29, 2.5, 2.3), (0.30, 1.75),
    (0.33, 3.6, 3.4), (0.335, 3.2, 3.0), (0.34, 2.8, 2.6), (0.35, 2.4, 2.2), (0.36, 2.0),
    (0.38, 3.6, 3.4), (0.385, 3.2, 3.0), (0.39, 2.7, 2.5), (0.40, 2.2, 2.0), (0.41, 1.9),
    (0.44, 3.3, 3.1), (0.45, 2.9, 2.7), (0.46, 2.5),
    (0.50, 3.4), (0.53, 3.1, 2.9), (0.60, 3.3), (0.70, 3.6), (0.75, 3.4, 3.2),
    (0.80, 3.5, 3.3), (0.81, 3.1, 2.9), (0.82, 2.7, 2.5), (0.84, 3.3, 3.1), (0.85, 2.8, 2.4), (0.86, 2.1, 2.0),
    (0.88, 3.3, 3.1), (0.89, 2.9, 2.7), (0.90, 2.4, 1.25), (0.92, 3.0, 2.6), (0.93, 2.2),
    (0.95, 3.0, 2.8), (0.96, 2.6, 2.4), (0.97, 2.2, 2.0), (0.98, 1.8, 1.6),
    (1.00, 2.8, 2.6), (1.01, 2.3, 2.1), (1.02, 1.9, 1.6), (1.03, 1.4, 1.2), (1.04, 0.9, 0.6), (1.05, 0.8),
    (1.07, 2.5, 2.3), (1.08, 2.1, 1.9), (1.09, 1.7, 1.4), (1.10, 1.0, 0.7), (1.11, 0.5, 0.2), (1.12, 2.0),
    (1.13, 3.3, 3.1), (1.14, 2.9, 2.7), (1.15, 2.5, 2.3), (1.17, 2.8),
    (1.19, 3.5, 3.3), (1.20, 3.1, 2.9), (1.21, 2.6, 2.4), (1.22, 1.3, 1.0),
    (1.24, 3.6, 3.4), (1.25, 3.2, 3.0), (1.26, 2.8, 2.6), (1.27, 2.3),
    (1.29, 3.3, 3.1), (1.30, 2.9, 2.6), (1.31, 2.3, 2.0), (1.32, 1.6, 1.3), (1.33, 0.55),
    (1.35, 3.1, 2.9), (1.36, 2.6, 2.3), (1.37, 1.9, 1.5), (1.38, 1.3, 1.0),
    (1.40, 3.0, 2.8), (1.41, 2.5, 2.2), (1.42, 1.9, 1.5),
    (1.44, 2.8, 2.6), (1.45, 2.3, 2.0), (1.46, 1.7, 1.4), (1.47, 1.1, 0.8), (1.49, 1.2),
    (1.52, 3.6, 3.4), (1.53, 3.2, 3.0), (1.54, 2.8, 2.5), (1.55, 2.2, 1.9), (1.56, 3.3, 3.0),
    (1.57, 3.5, 3.3), (1.58, 3.2, 3.0, 2.8), (1.59, 3.4, 3.1, 2.7), (1.60, 3.3, 2.9, 2.6),
    (1.61, 3.5, 3.0, 2.8), (1.62, 3.2, 2.8, 2.4), (1.63, 3.4, 3.1, 2.7), (1.64, 2.2, 1.3), (1.65, 3.0, 2.6),
    (1.67, 3.3, 3.1), (1.68, 2.9, 2.7), (1.69, 2.5, 2.2), (1.70, 3.2, 2.9), (1.71, 2.6, 2.3), (1.72, 1.8, 1.4),
    (1.74, 3.4, 3.2), (1.75, 3.0, 2.8), (1.76, 2.6, 2.3), (1.77, 3.1, 2.8), (1.78, 2.5),
    (1.80, 2.8, 2.6), (1.81, 2.3, 2.0), (1.82, 1.6, 1.3), (1.83, 1.0, 0.6), (1.84, 0.4, -0.1, -0.4),
    (1.87, 2.8, 2.6), (1.88, 2.3, 2.0), (1.89, 1.7, 1.3), (1.90, 0.9, 0.5), (1.91, 0.1, 2.1), (1.92, 2.5),
    (1.95, 2.6, 2.4), (1.96, 2.1, 1.8), (1.97, 1.4, 1.0), (1.98, 0.6, 0.3), (2.00, 2.2, 1.9),
    (2.03, 3.0, 2.8), (2.04, 2.5, 2.2), (2.05, 1.9, 1.6), (2.06, 1.2, 0.8), (2.07, 2.6),
    (2.10, 3.3, 3.1), (2.11, 2.8, 2.5), (2.12, 2.2, 1.9), (2.14, 3.0, 2.7), (2.15, 2.3, 2.0), (2.16, 0.55, 1.5),
    (2.20, 3.4, 3.2), (2.21, 3.0, 2.8), (2.22, 2.6, 2.4), (2.24, 3.2, 2.9), (2.25, 2.6, 2.3), (2.27, 3.1, 2.8),
    (2.29, 2.5, 2.2), (2.30, 2.0),
    (2.33, 3.1, 2.9), (2.34, 2.7, 2.5), (2.35, 2.3, 2.0), (2.37, 3.0, 2.8), (2.38, 2.6, 2.3), (2.39, 1.9, 1.6),
    (2.40, 1.4),
    (2.42, 2.8, 2.6), (2.43, 2.3, 2.0), (2.44, 1.6, 1.2), (2.45, 0.95, 2.5), (2.47, 2.2, 1.8), (2.48, 1.4),
    (2.50, 2.0, 1.7), (2.505, 1.4, 1.1), (2.51, 0.8, 0.5), (2.515, 0.3, 0.05),
    (2.53, 3.4, 3.3), (2.535, 3.1, 2.9), (2.54, 2.7, 2.5), (2.55, 2.3),
    (2.57, 2.0, 1.8), (2.58, 1.7, 1.5), (2.59, 1.6),
]
F_MAG = [
    (0.24, 3.4, 3.2), (0.245, 2.9, 2.6), (0.25, 2.3, 1.7, 1.4), (0.26, 3.3, 3.0), (0.27, 2.8, 2.5),
    (0.28, 3.1, 2.7), (0.29, 2.9, 2.4), (0.30, 2.6, 2.2),
    (0.31, 3.6, 3.3), (0.32, 3.0, 2.8), (0.33, 2.7, 2.4), (0.34, 3.1, 2.0), (0.35, 2.8, 1.8), (0.36, 2.6, 2.2),
    (0.37, 2.3, 1.6), (0.38, 3.0, 2.7), (0.39, 2.6, 2.3), (0.40, 2.1, 1.8),
    (0.42, 3.5, 3.2), (0.43, 3.1, 2.9), (0.44, 2.8, 2.5), (0.45, 3.3, 3.0), (0.46, 2.6, 2.3), (0.47, 3.2, 2.1),
    (0.48, 3.0, 1.45), (0.49, 3.4, 3.1), (0.50, 3.2, 2.9), (0.51, 3.0, 2.7), (0.52, 3.3, 3.1), (0.53, 3.2, 2.8),
    (0.54, 3.4, 3.0),
    (0.56, 3.3, 3.1), (0.58, 3.2, 3.0), (0.60, 3.3, 2.9), (0.62, 3.1, 2.9), (0.64, 3.2, 2.8), (0.66, 3.3, 3.0),
    (0.68, 3.1, 2.9), (0.70, 3.4, 3.0), (0.72, 3.2, 2.9), (0.74, 3.1, 2.8), (0.76, 3.3, 3.0), (0.78, 3.0, 2.8),
    (0.80, 3.2, 2.9), (0.82, 2.9, 2.6), (0.84, 2.7, 2.4), (0.86, 3.1, 2.2), (0.88, 2.8, 2.0), (0.90, 2.5, 1.8),
    (0.92, 2.9, 2.3), (0.94, 2.6, 2.1),
    (0.96, 2.7, 2.4), (0.98, 2.5, 2.2), (1.00, 2.3, 2.0), (1.02, 2.1, 1.8), (1.04, 2.4, 1.7), (1.06, 2.0, 1.4),
    (1.08, 2.2, 1.8), (1.09, 1.6, 1.3), (1.10, 1.2, 1.0), (1.11, 0.8, 0.9),
    (1.13, 3.3, 3.0), (1.15, 2.8, 2.6), (1.17, 3.0, 2.4), (1.19, 3.2, 2.8), (1.21, 2.7, 2.4), (1.23, 3.3, 3.1),
    (1.25, 3.5, 3.0), (1.27, 2.8, 2.6), (1.29, 3.1, 2.3),
    (1.31, 3.3, 3.0), (1.33, 2.8, 2.4), (1.35, 2.6, 2.0), (1.38, 3.1, 2.8), (1.41, 3.0, 2.2), (1.44, 2.6, 1.7),
    (1.46, 3.0, 2.7), (1.48, 2.3, 2.0), (1.51, 2.7, 2.1), (1.54, 2.5, 1.5), (1.57, 2.9, 2.3), (1.59, 1.0),
    (1.60, 3.3, 3.1), (1.62, 3.2, 2.9), (1.64, 3.4, 3.0), (1.65, 0.15),
    (1.70, 2.6, 2.3), (1.73, 2.4, 1.8), (1.76, 2.1, 1.3), (1.79, 1.8, 1.0), (1.82, 1.4, 0.9), (1.84, 1.0),
    (1.87, 2.3, 1.9), (1.90, 1.8, 1.3), (1.93, 1.0, 1.5), (1.97, 2.0, 1.6), (1.99, 1.3, 1.0),
    (2.02, 2.8, 2.4), (2.06, 2.5, 2.0), (2.10, 2.8, 2.2), (2.14, 2.4, 1.8), (2.18, 2.9, 2.5), (2.22, 2.6, 2.1),
    (2.26, 2.7, 1.9), (2.29, 2.3, 1.6),
    (2.31, 3.2, 2.9), (2.34, 2.8, 2.4), (2.37, 3.5, 3.3), (2.40, 2.7, 2.3), (2.43, 3.0, 2.2), (2.45, 2.0, 1.7),
    (2.47, 2.4, 1.9), (2.49, 1.6, 1.3),
    (2.50, 1.1, 0.9), (2.52, 3.4, 3.1), (2.53, 2.6, 2.4), (2.55, 2.0, 1.7), (2.56, 1.5, 1.4), (2.58, 1.6, 1.4),
]

G_HEP = [
    (0.30, 0.3, 0.4), (0.32, 0.5, 0.7), (0.34, 0.9, 1.1), (0.36, 1.2, 1.0), (0.37, 1.4),
    (0.385, 1.9, 1.8), (0.39, 1.7, 1.6), (0.40, 1.5, 1.3),
    (0.42, 1.7, 1.4), (0.43, 1.6, 1.2), (0.44, 1.5, 1.3), (0.45, 1.7, 1.1), (0.46, 1.4, 1.2), (0.47, 1.6, 1.0),
    (0.48, 1.5, 1.3), (0.49, 1.3, 0.9), (0.50, 1.6, 1.1), (0.51, 1.4, 1.0), (0.52, 1.2, 0.8), (0.53, 1.5, 0.9),
    (0.54, 1.1, 0.7), (0.55, 1.3, 0.8), (0.56, 1.0, 0.6), (0.57, 1.5, 0.5), (0.58, 0.9, 0.4), (0.59, 0.7, 0.3),
    (0.60, 0.6, 0.2), (0.62, 0.5, 0.3), (0.64, 0.4),
    (0.69, 3.5, 3.3), (0.70, 3.1, 2.8), (0.705, 2.6, 2.3), (0.71, 2.2, 2.0),
    (0.72, 1.9, 1.7), (0.73, 1.8, 1.6), (0.74, 1.7, 1.5), (0.75, 1.8, 1.4), (0.76, 1.6, 1.3), (0.77, 1.5, 1.2),
    (0.78, 1.6, 1.1), (0.79, 1.4, 1.0), (0.80, 1.3, 0.9), (0.81, 1.2, 0.8), (0.82, 1.3, 0.7), (0.83, 1.1, 0.6),
    (0.84, 1.0, 0.7), (0.85, 0.9, 0.5), (0.86, 0.8, 0.6), (0.87, 0.7, -0.6), (0.88, 0.5, 0.3), (0.90, 0.4),
    (0.92, 0.3),
    (1.15, 1.0), (1.18, 0.6, -0.1), (1.20, 0.2), (1.22, -0.05), (1.24, 1.4, 0.8, -0.1),
    (1.26, 0.9, 0.6, 0.3), (1.27, 1.2, 0.7), (1.28, 1.0, 0.5, 0.1), (1.29, 1.3, 0.8), (1.30, 0.9, 0.4, -0.2),
    (1.31, 1.1, 0.6), (1.32, 1.4, 0.8, 0.3), (1.33, 1.0, 0.5), (1.34, 1.2, 0.7, 0.1), (1.35, 0.9, 0.4),
    (1.36, 1.5, 1.1, 0.6), (1.37, 1.0, 0.3), (1.38, 1.3, 0.8, -0.3), (1.39, 1.1, 0.5), (1.40, 0.9, 0.2, -0.5),
    (1.41, 1.2, 0.7), (1.42, 1.0, 0.4, -0.8), (1.43, 1.4, 0.6), (1.44, 0.8, 0.1, -1.0), (1.45, 1.2, 0.5, -1.3),
    (1.46, 1.0, 0.3), (1.47, 1.3, 0.7, -0.4), (1.48, 0.9, 0.2), (1.49, 1.1, 0.6), (1.50, 1.4, 0.8, 0.0),
    (1.51, 1.0, 0.4), (1.52, 1.2, 0.6, -0.3), (1.53, 0.8, 0.2), (1.54, 1.3, 0.9), (1.55, 1.0, 0.5, -0.2),
    (1.56, 1.2, 0.7), (1.57, 0.9, 0.3), (1.58, 1.4, 1.0, 0.5), (1.59, 1.1, 0.6), (1.60, 1.3, 0.8, -0.7),
    (1.61, 1.0, 0.4), (1.62, 1.2, 0.7),
    (1.64, 3.5, 3.3), (1.645, 3.1, 2.9), (1.65, 2.7, 2.5), (1.655, 2.3, 2.1), (1.66, 1.9, 1.8),
    (1.665, 1.7, 1.6), (1.67, 1.5, 1.3), (1.68, 1.4, 1.1, 0.8), (1.69, 1.3, 1.0, 0.6), (1.70, 1.2, 0.9, 0.5),
    (1.71, 1.1, 0.8, 0.3), (1.72, 1.2, 0.7, 0.4), (1.73, 1.0, 0.6, 0.2), (1.74, 0.9, 0.5, 0.0),
    (1.75, 1.1, 0.7, 0.3), (1.76, 0.8, 0.4, -0.2), (1.77, 0.9, 0.5, 0.1), (1.78, 0.7, 0.3, -0.5),
    (1.79, 0.8, 0.4, -0.3), (1.80, 0.6, 0.2, -0.7), (1.81, 0.7, 0.3, -0.9), (1.82, 0.8, 0.1, -1.0),
    (1.83, 0.5, 0.2), (1.84, 0.7, 0.0, -0.6), (1.85, 0.6, 0.3), (1.86, 0.4, 0.1), (1.87, 0.7, 0.2, -0.3),
    (1.88, 0.5, 0.0), (1.90, 0.6, -0.1), (1.92, 0.4, 0.2), (1.94, 0.7, 0.1), (1.96, 0.5, -0.4), (1.98, 0.8, 0.3),
    (2.00, 0.6, -0.6),
    (2.02, 0.9, 0.5), (2.04, 1.1, 0.3, -0.2), (2.06, 0.8, 0.4), (2.08, 1.0, 0.2, -0.5), (2.10, 0.7, 0.3),
    (2.12, 0.5, -0.1), (2.14, 0.4, 0.0, -0.7), (2.16, 0.6, 0.2), (2.18, 0.3, -0.4), (2.20, 0.5, 0.1),
    (2.22, 0.7, 0.2, -0.9), (2.24, 0.8, 0.4), (2.26, 0.6, 0.0, -0.5), (2.28, 0.9, 0.3, -1.2),
    (2.30, 0.7, 0.4, -1.1), (2.32, 1.0, 0.5), (2.34, 0.8, 0.3), (2.36, 1.1, 0.6), (2.38, 0.9, 0.5),
    (2.40, 1.2, 0.7), (2.42, 1.0, 0.6), (2.44, 1.3, 0.8), (2.46, 1.1, 0.7),
    (2.50, 1.1, 1.0), (2.52, 1.2, 1.1), (2.54, 1.1),
]
G_MAG = [
    (0.24, 0.2, 0.1, 0.0), (0.25, 0.3, 0.1), (0.26, 0.2, 0.0), (0.27, 0.1, 0.25), (0.28, 0.2, 0.05),
    (0.29, 0.3, 0.1), (0.30, 0.2, 0.0), (0.31, 0.25, 0.1), (0.32, 0.5, 0.2), (0.33, 0.7, 0.3), (0.34, 0.3, 0.1),
    (0.35, 0.4, 0.2), (0.36, 0.3),
    (0.39, 1.9, 1.8), (0.40, 1.6, 1.4), (0.41, 1.2, 1.0),
    (0.42, 0.9, 0.7), (0.43, 0.8, 0.6), (0.44, 0.7, 0.5), (0.45, 0.6, 0.4), (0.46, 0.5, 0.35), (0.47, 0.5, 0.3),
    (0.48, 0.4, 0.25), (0.49, 0.45, 0.3), (0.50, 0.35, 0.2),
    (0.52, 0.3, 0.15), (0.54, 0.25, 0.1), (0.56, 0.3, 0.15), (0.58, 0.2, 0.1), (0.60, 0.25, 0.1),
    (0.62, 0.2, 0.15), (0.64, 0.15, 0.1), (0.66, 0.2, 0.1),
    (0.695, 3.0, 2.7), (0.70, 2.3, 2.2), (0.705, 1.7, 1.5),
    (0.71, 1.3, 1.1), (0.72, 1.2, 1.0), (0.73, 0.95, 0.85), (0.74, 0.9, 0.8), (0.75, 0.8, 0.7), (0.76, 0.8, 0.65),
    (0.77, 0.7, 0.6), (0.78, 0.65, 0.55), (0.79, 0.6, 0.5), (0.80, 0.55, 0.45), (0.82, 0.5, 0.4),
    (0.84, 0.45, 0.35), (0.86, 0.4, 0.3), (0.88, 0.35, 0.3), (0.90, 0.3, 0.25), (0.92, 0.3, 0.2),
    (0.94, 0.25, 0.2),
    (0.96, 0.25, 0.15), (0.98, 0.2, 0.15), (1.00, 0.2, 0.1), (1.02, 0.2, 0.1), (1.04, 0.15, 0.1),
    (1.06, 0.2, 0.1), (1.08, 0.15, 0.05), (1.10, 0.15, 0.1), (1.12, 0.2, 0.05), (1.14, 0.1, 0.15),
    (1.16, 0.1, 0.05), (1.18, 0.15, 0.1), (1.20, 0.1, 0.05), (1.22, 0.15, 0.05), (1.24, 0.1, 0.0),
    (1.26, 0.15, 0.05), (1.28, 0.1, 0.05),
    (1.30, 0.3, 0.15), (1.32, 0.1, 0.05), (1.34, 0.1), (1.38, 0.15, 0.05), (1.42, 0.1), (1.46, 0.15, 0.1),
    (1.50, 0.1), (1.54, 0.2, 0.1), (1.58, 0.1), (1.62, 0.15, 0.1),
    (1.70, 0.1), (1.74, 0.15), (1.78, 0.3, 0.2), (1.80, 0.2, 0.1), (1.83, 0.15), (1.86, 0.2, 0.1), (1.90, 0.1),
    (1.94, 0.15), (1.98, 0.2, 0.1), (2.02, 0.1), (2.06, 0.1, 0.15), (2.10, 0.1), (2.14, 0.15), (2.18, 0.1, 0.2),
    (2.22, 0.1), (2.26, 0.15, 0.1), (2.30, 0.1), (2.34, 0.1, 0.15), (2.38, 0.1), (2.42, 0.15, 0.1),
    (2.45, 0.7), (2.47, 0.1), (2.50, 0.1, 0.15), (2.54, 0.75, 0.1), (2.56, 1.3), (2.57, 0.35),
]

H_HEP = [
    (0.24, 3.4, 3.3), (0.245, 3.1, 2.9), (0.25, 2.8, 2.6), (0.26, 2.5, 2.3), (0.27, 2.2),
    (0.30, 4.4),
    (0.31, 3.7, 3.6), (0.32, 3.4, 3.2), (0.33, 3.1, 2.9), (0.34, 2.9, 2.7), (0.35, 2.8, 2.6), (0.36, 2.6, 2.4),
    (0.37, 2.5),
    (0.40, 3.8, 3.6), (0.41, 3.4, 3.2), (0.42, 3.0, 2.8), (0.43, 2.7, 2.5), (0.44, 2.4, 2.2), (0.45, 2.1, 1.9),
    (0.46, 1.9, 1.7), (0.47, 1.7, 1.5), (0.48, 1.5, 1.3), (0.49, 1.3, 1.1), (0.50, 1.1, 1.0),
    (0.535, 3.5, 3.4), (0.55, 3.2), (0.57, 2.7, 2.5), (0.60, 2.5), (0.62, 2.3),
    (0.66, 3.2), (0.68, 3.0, 3.2), (0.70, 3.3),
    (0.73, 3.6, 3.5), (0.74, 3.5, 3.3), (0.75, 3.3), (0.76, 3.2),
    (0.78, 3.5, 3.3), (0.80, 3.1), (0.81, 3.2, 3.0),
    (0.86, 3.6, 3.5), (0.87, 3.2, 3.0), (0.88, 2.9, 2.7), (0.89, 2.6, 2.4), (0.90, 2.4, 2.2), (0.91, 2.3),
    (0.92, 2.2),
    (0.94, 2.5, 2.4), (0.95, 2.3, 2.2), (0.96, 2.2, 2.0), (0.97, 2.0, 1.8), (0.98, 1.8, 1.6), (0.99, 1.5, 1.3),
    (1.00, 1.0, 0.8), (1.01, 0.8, 0.6), (1.02, 0.6, 0.4), (1.03, 0.5, 0.2), (1.04, -0.1, -1.6),
    (1.05, -0.3, 0.3), (1.06, -0.5, -0.6), (1.07, 0.5),
    (1.09, 1.6, 1.4), (1.10, 1.8, 1.5), (1.11, 1.7, 1.3), (1.12, 1.5, 1.2), (1.14, 1.9, 1.7), (1.16, 2.1, 1.8),
    (1.18, 2.3, 2.1), (1.20, 1.9), (1.22, 2.1, 2.3), (1.24, 2.4),
    (1.28, 3.3, 3.2), (1.29, 3.1, 3.0), (1.30, 2.9, 2.8), (1.31, 3.0, 2.8), (1.32, 2.7, 2.5), (1.33, 2.4, 2.3),
    (1.34, 2.3, 2.2), (1.35, 2.4, 2.1), (1.37, 2.2),
    (1.40, 2.9, 2.7), (1.41, 2.6, 2.4), (1.42, 2.3, 2.1), (1.43, 2.0),
    (1.47, 2.8, 2.6), (1.475, 2.5, 2.3), (1.48, 2.2, 2.0), (1.49, 1.7, -0.7), (1.50, 1.2),
    (1.53, 1.2, 0.9), (1.54, 0.7, 0.5), (1.55, 1.0, 0.7), (1.56, 0.4, 0.2), (1.57, 0.9, 0.5), (1.58, 0.0, 0.8),
    (1.59, 0.3, -0.3), (1.60, -1.1, 0.6),
    (1.62, 2.0, 1.6), (1.63, 1.4, 1.2),
    (1.645, 3.7, 3.6), (1.65, 3.5, 3.4), (1.66, 3.3, 3.2), (1.67, 3.1, 3.0), (1.68, 3.0, 2.8), (1.69, 2.8, 2.6),
    (1.70, 2.7, 2.5), (1.71, 2.5, 2.4), (1.72, 2.4, 2.3), (1.73, 2.2),
    (1.77, 3.2, 3.0), (1.775, 2.9, 2.7), (1.78, 2.6, 2.4), (1.79, 2.3, 2.1), (1.80, 2.0, 1.8),
    (1.85, 3.2, 3.0), (1.855, 2.9, 2.7), (1.86, 2.6, 2.4), (1.87, 2.3, 2.1), (1.88, 1.9, 1.7), (1.89, 1.5, 1.3),
    (1.90, 1.4, 0.9), (1.91, 1.2, 0.7), (1.92, 1.0, 0.5), (1.93, 1.3, 0.8, 0.3), (1.94, 1.1, 0.6, 0.0),
    (1.95, 0.9, 0.4, -0.8), (1.96, 1.2, 0.7, 0.2), (1.97, 1.0, 0.5, -0.9), (1.98, 0.8, 0.2, -0.4),
    (1.99, 1.1, 0.6),
    (2.00, 1.0, 0.8), (2.01, 0.9, 0.6), (2.02, 0.7, 0.3, -0.8), (2.03, 0.9, 0.1, -0.3), (2.04, 0.6, -0.7),
    (2.05, 0.8, 0.4, -1.1), (2.06, 1.0),
    (2.09, 2.2, 2.0), (2.095, 1.9, 1.7), (2.10, 1.6, 1.4), (2.11, 1.3, 1.1),
    (2.16, 2.8, 2.6), (2.165, 2.5, 2.3), (2.17, 2.2, 2.0), (2.18, 1.8, 1.5),
    (2.22, 2.2, 2.1), (2.23, 1.9, 1.8), (2.24, 1.6, 1.4), (2.25, 1.3, 1.1), (2.26, 1.8, 1.5), (2.27, 1.2, 1.0),
    (2.28, 0.8, 0.6), (2.29, 1.7), (2.30, 1.4),
    (2.34, 1.6, 1.4), (2.35, 1.2, 1.0), (2.36, 1.5, 1.2), (2.37, 0.8, 0.6), (2.38, 1.1, 0.9),
    (2.39, 0.5, 0.3, -0.6), (2.40, 1.0, 0.7), (2.41, 0.4, -0.7), (2.42, 0.6),
    (2.47, 0.8, 0.6), (2.48, 0.4, 0.2), (2.49, 0.0, -0.3), (2.50, -0.5, -0.9), (2.51, 0.1),
    (2.52, 2.4, 2.3), (2.53, 2.2, 2.0), (2.54, 1.9, 1.8), (2.55, 1.7, 1.6), (2.56, 1.5, 1.4), (2.565, 1.4, 1.3),
]
H_MAG = [
    (0.24, 3.2, 3.0), (0.245, 2.8, 2.6), (0.25, 2.4, 2.2), (0.26, 2.0, 1.9), (0.27, 1.7, 1.5), (0.28, 1.5, 1.4),
    (0.31, 3.5, 3.4), (0.32, 3.2, 3.0), (0.33, 2.9, 2.7), (0.34, 2.6, 2.4), (0.35, 2.3, 2.2), (0.36, 2.4, 2.1),
    (0.37, 2.0),
    (0.405, 3.7, 3.6), (0.41, 3.4, 3.2), (0.42, 2.9, 2.6), (0.43, 2.3),
    (0.44, 2.1, 1.9), (0.45, 1.8, 1.6), (0.46, 1.5, 1.3), (0.47, 1.2, 1.1), (0.48, 0.9, 1.0), (0.49, 0.7, 0.6),
    (0.50, 0.8),
    (0.535, 3.3, 3.2), (0.54, 3.0, 2.7), (0.56, 2.4), (0.58, 2.1, 1.9), (0.60, 1.6, 1.5), (0.62, 1.8),
    (0.63, 2.9, 2.7), (0.65, 3.3, 3.0), (0.67, 2.9, 2.6), (0.69, 3.1, 2.9), (0.71, 3.2, 2.9), (0.73, 2.8, 2.6),
    (0.75, 3.1, 2.9), (0.76, 3.0, 2.8), (0.77, 2.6, 2.3), (0.78, 2.9, 2.0), (0.80, 2.4, 1.8), (0.82, 2.6, 2.2),
    (0.84, 3.5, 3.4), (0.85, 3.2, 2.9), (0.86, 2.8, 2.6), (0.87, 2.4),
    (0.89, 2.4, 2.2), (0.90, 2.1, 2.0), (0.91, 1.9, 1.8), (0.92, 1.7, 1.5), (0.94, 2.0, 1.8), (0.95, 1.6, 1.4),
    (0.96, 1.3, 1.1), (0.97, 1.0, 0.9), (0.98, 1.1, 0.8), (0.99, 0.7),
    (1.00, 0.8, 0.6, 0.5), (1.01, 0.6, 0.4, 0.3), (1.02, 0.5, 0.3, 0.2), (1.03, 0.6, 0.3, 0.2),
    (1.04, 0.4, 0.2, 0.15), (1.05, 0.5, 0.3), (1.06, 0.4, 0.2), (1.07, 0.5, 0.3), (1.08, 0.4, 0.2),
    (1.09, 0.5, 0.3),
    (1.10, 1.2, 1.0), (1.11, 1.5, 1.3), (1.12, 1.8, 1.6), (1.13, 0.9, 0.8), (1.15, 0.7, 1.2), (1.17, 1.6, 1.1),
    (1.18, 0.9),
    (1.20, 2.9, 2.7), (1.21, 2.6, 2.4), (1.22, 2.2, 2.0), (1.23, 1.8), (1.25, 1.6),
    (1.28, 3.0, 2.9), (1.29, 2.7, 2.6), (1.30, 2.5, 2.4), (1.31, 2.3), (1.33, 2.5),
    (1.35, 2.3, 2.1), (1.37, 2.0, 1.8), (1.39, 1.7, 1.5), (1.41, 1.9, 1.4), (1.43, 1.3, 1.5), (1.44, 1.3),
    (1.47, 1.0, 0.9), (1.49, 0.8, 0.7), (1.51, 0.9),
    (1.57, 0.9, 0.7), (1.59, 0.6, 0.5), (1.61, 0.4, 0.6),
    (1.64, 3.4, 3.3), (1.65, 3.1, 2.9), (1.66, 2.8, 2.7), (1.67, 2.5, 2.4),
    (1.70, 2.7, 2.5), (1.72, 2.4, 2.2), (1.74, 2.1, 2.0), (1.76, 1.9, 1.8), (1.78, 2.0, 1.7), (1.80, 1.6, 1.9),
    (1.82, 1.7),
    (1.83, 1.6, 1.4), (1.85, 1.3, 1.1), (1.87, 1.0, 0.9), (1.89, 0.8, 0.7),
    (1.91, 0.7, 0.5), (1.94, 0.4, 0.3), (1.96, 0.2),
    (2.00, 0.9, 0.7), (2.02, 0.6, 0.4), (2.04, 0.3, 0.2), (2.06, 0.4),
    (2.16, 2.3, 2.1), (2.18, 2.0, 1.8), (2.20, 1.7, 1.5), (2.21, 1.4),
    (2.24, 1.5, 1.3), (2.25, 1.2, 1.0), (2.27, 0.8, 1.0),
    (2.30, 0.8, 0.6), (2.32, 0.5, 0.4), (2.34, 0.3, 0.2), (2.35, 0.5),
    (2.37, 3.0, 2.9), (2.375, 2.7, 2.5), (2.38, 2.4, 2.2), (2.39, 2.1),
    (2.40, 1.8, 1.6), (2.42, 1.5, 1.3), (2.43, 1.2, 1.0), (2.44, 0.8, 0.6), (2.45, 0.5),
    (2.47, 0.5, 0.3), (2.49, 0.3, 0.2), (2.51, 0.2),
    (2.53, 2.5, 2.3), (2.54, 2.2, 2.0), (2.55, 0.3, 0.1), (2.56, 0.1),
]

I_HEP = [
    (0.24, 3.5, 3.3, 3.1), (0.245, 2.9, 2.7), (0.25, 2.5, 2.3), (0.255, 1.2),
    (0.27, 3.2, 3.0), (0.28, 2.8, 2.6), (0.29, 2.4, 2.2), (0.30, 1.4, 0.35),
    (0.33, 3.4, 3.2), (0.335, 3.0, 2.8), (0.34, 2.6, 2.4), (0.35, 2.2, 2.0),
    (0.38, 3.3, 3.1), (0.385, 2.9, 2.7), (0.39, 2.5, 2.3), (0.40, 2.0, 1.8), (0.41, 1.6),
    (0.44, 3.0, 2.8), (0.45, 2.6, 2.4), (0.46, 2.3),
    (0.50, 3.0), (0.53, 2.8, 2.6), (0.60, 3.0), (0.70, 3.3), (0.75, 3.2, 3.0),
    (0.80, 3.3, 3.1), (0.81, 2.9, 2.7), (0.82, 2.5, 2.3), (0.84, 3.1, 2.9), (0.85, 2.6, 2.3), (0.86, 2.0, 1.8),
    (0.88, 3.1, 2.9), (0.89, 2.7, 2.5), (0.90, 2.2, 1.6), (0.92, 2.8, 2.5), (0.93, 2.0),
    (0.95, 2.8, 2.6), (0.96, 2.4, 2.2), (0.97, 2.0, 1.7), (0.98, 1.4, 1.2),
    (1.00, 2.6, 2.4), (1.01, 2.1, 1.8), (1.02, 1.4, 1.0), (1.03, 0.6, 0.2), (1.04, -0.1, -1.05), (1.05, 0.4),
    (1.07, 2.3, 2.1), (1.08, 1.9, 1.6), (1.09, 1.3, 1.0), (1.10, 0.6, 0.2), (1.11, -0.3, -0.75), (1.12, 1.8),
    (1.13, 3.2, 3.0), (1.14, 2.8, 2.6), (1.15, 2.4, 2.2), (1.17, 2.7),
    (1.19, 3.3, 3.1), (1.20, 2.9, 2.7), (1.21, 2.4, 2.2), (1.22, 0.9, -0.9),
    (1.24, 3.3, 3.1), (1.25, 3.0, 2.8), (1.26, 2.6, 2.4), (1.27, 2.1),
    (1.29, 3.0, 2.8), (1.30, 2.6, 2.3), (1.31, 1.9, 1.5), (1.32, 1.1, 0.7), (1.33, 0.4),
    (1.35, 2.9, 2.7), (1.36, 2.3, 2.0), (1.37, 1.5, 1.1), (1.38, 0.3, 0.6),
    (1.40, 2.8, 2.6), (1.41, 2.2, 1.8), (1.42, 1.3, 0.9),
    (1.44, 2.6, 2.4), (1.45, 2.1, 1.7), (1.46, 1.3, 0.9), (1.47, 0.5, 0.0), (1.49, 1.0),
    (1.52, 3.4, 3.2), (1.53, 3.0, 2.8), (1.54, 2.5, 2.2), (1.55, 1.8, 0.5), (1.56, 3.0, 2.7),
    (1.57, 3.3, 3.1), (1.58, 3.0, 2.8, 2.6), (1.59, 3.2, 2.9, 2.5), (1.60, 3.1, 2.7, 2.4),
    (1.61, 3.3, 2.8, 2.6), (1.62, 3.0, 2.6, 2.2), (1.63, 3.2, 2.9, 2.5), (1.64, 1.3, 0.8), (1.65, 2.8, 2.4),
    (1.67, 3.2, 3.0), (1.68, 2.8, 2.6), (1.69, 2.3, 1.9), (1.70, 3.0, 2.7), (1.71, 2.2, 1.6), (1.72, 0.9),
    (1.74, 3.2, 3.0), (1.75, 2.8, 2.6), (1.76, 2.3, 1.8), (1.77, 2.9, 2.6), (1.78, 1.0),
    (1.80, 2.5, 2.3), (1.81, 2.0, 1.7), (1.82, 1.3, 0.9), (1.83, 0.5, 0.1), (1.84, -0.2, -0.6),
    (1.87, 2.4, 2.2), (1.88, 1.9, 1.6), (1.89, 1.2, 0.8), (1.90, 0.4, 0.0), (1.91, 2.0), (1.92, 2.3),
    (1.95, 2.5, 2.3), (1.96, 1.9, 1.6), (1.97, 1.2, 0.8), (1.98, 0.3, -0.1), (2.00, 2.1, 1.8),
    (2.03, 2.7, 2.5), (2.04, 2.2, 1.9), (2.05, 1.5, 1.1), (2.06, 0.6, 0.2), (2.07, -0.7, 2.3),
    (2.10, 3.0, 2.8), (2.11, 2.5, 2.2), (2.12, 1.8, 1.4), (2.14, 2.8, 2.5), (2.15, 1.9, 1.0), (2.16, 0.3, 0.0),
    (2.20, 3.1, 2.9), (2.21, 2.7, 2.5), (2.22, 2.3, 2.1), (2.24, 2.9, 2.6), (2.25, 2.3, 2.0), (2.27, 2.8, 2.5),
    (2.29, 2.2, 1.9), (2.30, 1.6),
    (2.33, 2.7, 2.5), (2.34, 2.3, 2.1), (2.35, 1.9, 1.5), (2.37, 2.6, 2.4), (2.38, 2.2, 1.9), (2.39, 1.4, 0.9),
    (2.40, 0.5),
    (2.42, 2.5, 2.3), (2.43, 2.0, 1.6), (2.44, 1.2, 0.8), (2.45, 0.5, 2.2), (2.47, 1.9, 1.5), (2.48, 0.8),
    (2.50, 1.6, 1.3), (2.505, 1.0, 0.6), (2.51, 0.3, 0.0), (2.515, -0.3, -0.6),
    (2.53, 3.1, 3.0), (2.535, 2.8, 2.6), (2.54, 2.4, 2.2), (2.55, 2.0),
    (2.57, 1.8, 1.5), (2.58, 1.3, 1.1), (2.59, 1.2),
]
I_MAG = [
    (0.24, 3.4, 3.2), (0.245, 2.8, 2.5), (0.25, 2.1, 1.5, 1.0), (0.26, 3.3, 3.0), (0.27, 2.7, 2.4),
    (0.28, 3.0, 2.6), (0.29, 2.8, 2.2), (0.30, 2.5, 2.0),
    (0.31, 3.5, 3.2), (0.32, 2.9, 2.6), (0.33, 2.5, 2.2), (0.34, 3.0, 1.9), (0.35, 2.7, 1.8), (0.36, 2.5, 2.1),
    (0.37, 2.2, 1.6), (0.38, 2.9, 2.6), (0.39, 2.5, 2.2), (0.40, 2.0, 1.7),
    (0.42, 3.3, 3.0), (0.43, 2.9, 2.7), (0.44, 2.6, 2.3), (0.45, 3.1, 2.8), (0.46, 2.4, 2.1), (0.47, 3.0, 1.9),
    (0.48, 1.0, 0.8), (0.49, 3.2, 2.9), (0.50, 3.0, 2.7), (0.51, 2.8, 2.5), (0.52, 3.1, 2.9), (0.53, 3.0, 2.6),
    (0.54, 3.2, 2.8),
    (0.56, 3.1, 2.9), (0.58, 3.0, 2.8), (0.60, 3.1, 2.7), (0.62, 2.9, 2.7), (0.64, 3.0, 2.6), (0.66, 3.1, 2.8),
    (0.68, 2.9, 2.7), (0.70, 3.2, 2.8), (0.72, 3.0, 2.7), (0.74, 2.9, 2.6), (0.76, 3.1, 2.8), (0.78, 2.8, 2.6),
    (0.80, 3.0, 2.7), (0.82, 2.7, 2.4), (0.84, 2.5, 2.2), (0.86, 2.9, 2.0), (0.88, 2.6, 1.8), (0.90, 2.3, 1.6),
    (0.92, 2.7, 2.1), (0.94, 2.4, 1.9),
    (0.96, 2.4, 2.1), (0.98, 2.2, 1.9), (1.00, 2.0, 1.7), (1.02, 1.8, 1.5), (1.04, 2.1, 1.4), (1.06, 1.7, 1.1),
    (1.08, 1.9, 1.5), (1.09, 1.3, 1.0), (1.10, 0.9, 0.6), (1.11, 0.5, 0.7),
    (1.13, 3.0, 2.7), (1.15, 2.6, 2.4), (1.17, 2.8, 2.2), (1.19, 3.0, 2.6), (1.21, 2.5, 2.2), (1.23, 3.0, 2.8),
    (1.25, 3.1, 2.7), (1.27, 2.6, 2.4), (1.29, 2.9, 2.1),
    (1.31, 3.0, 2.7), (1.33, 2.6, 2.2), (1.35, 2.4, 1.8), (1.38, 2.9, 2.6), (1.41, 2.7, 2.0), (1.44, 2.3, 1.5),
    (1.46, 2.8, 2.5), (1.48, 2.1, 1.8), (1.51, 2.5, 1.9), (1.54, 2.2, 1.3), (1.57, 2.6, 2.0), (1.59, 0.9),
    (1.60, 3.0, 2.8), (1.62, 2.9, 2.6), (1.64, 3.1, 2.7), (1.65, 0.1),
    (1.70, 2.4, 2.1), (1.73, 2.1, 1.6), (1.76, 1.9, 1.1), (1.79, 1.6, 0.8), (1.82, 1.2, 0.7), (1.84, 0.8),
    (1.87, 2.2, 1.8), (1.90, 1.7, 1.2), (1.93, 0.9, 1.4), (1.97, 1.8, 1.4), (1.99, 1.2, 0.9),
    (2.02, 2.7, 2.3), (2.06, 2.4, 1.9), (2.10, 2.6, 2.0), (2.14, 2.2, 1.6), (2.18, 2.8, 2.4), (2.22, 2.5, 2.0),
    (2.26, 2.4, 1.7), (2.29, 2.0, 1.4),
    (2.31, 3.0, 2.7), (2.34, 2.6, 2.2), (2.37, 3.1, 2.8), (2.40, 2.5, 2.1), (2.43, 2.6, 2.0), (2.45, 1.7, 1.4),
    (2.47, 2.0, 1.6), (2.49, 1.3, 1.0),
    (2.50, 0.8, 0.6), (2.52, 3.0, 2.7), (2.53, 2.5, 2.2), (2.55, 1.9, 1.6), (2.56, 1.4, 1.2), (2.58, 1.5, 1.2),
]

L_VALUES = ['3.0', '4.0', '5.0']
ENERGIES = ['581', '781', '1027']
LETTERS = 'abcdefghi'
Y_TICKS = [
    [-1, 0, 1, 2, 3, 4, 5],
    [-2, -1, 0, 1, 2, 3, 4, 5],
    [-2.6, -1.6, -0.6, 0.4, 1.4, 2.4, 3.4, 4.4],
]
Y_LIMS = [(-1, 5), (-2, 5), (-2.6, 5.0)]
PANELS = [
    [(A_HEP, A_MAG), (B_HEP, B_MAG), (C_HEP, C_MAG)],
    [(D_HEP, D_MAG), (E_HEP, E_MAG), (F_HEP, F_MAG)],
    [(G_HEP, G_MAG), (H_HEP, H_MAG), (I_HEP, I_MAG)],
]

START = dt.datetime(2017, 1, 1)
DARK = '#262626'
GREEN = '#12e012'


def unpack(rows):
    xs, ys = [], []
    for row in rows:
        when = START + dt.timedelta(days=row[0] * 365.25)
        for v in row[1:]:
            xs.append(when)
            ys.append(v)
    return xs, ys


fig = plt.figure(figsize=(13.02, 7.57), dpi=100)

col_left = [78, 512, 944]
row_top = [49, 289, 530]
ax_w, ax_h = 313, 174

tick_dates = [dt.datetime(y, m, 1) for y in (2017, 2018, 2019) for m in (1, 7)] + [dt.datetime(2020, 1, 1)]
tick_labels = [d.strftime('Jan %Y') if d.month == 1 else '' for d in tick_dates]

for r in range(3):
    for c in range(3):
        left = col_left[c] / 1302
        bottom = 1 - (row_top[r] + ax_h) / 757
        ax = fig.add_axes([left, bottom, ax_w / 1302, ax_h / 757])

        hep, mag = PANELS[r][c]
        hx, hy = unpack(hep)
        mx, my = unpack(mag)
        ax.plot(hx, hy, 'o', color='k', ms=2.2, mew=0, label='HEP-H')
        ax.plot(mx, my, 'o', color=GREEN, ms=2.2, mew=0, label='MAGEIS')

        ax.set_xlim(START, dt.datetime(2020, 1, 15))
        ax.set_ylim(*Y_LIMS[r])
        ax.set_xticks(mdates.date2num(tick_dates))
        ax.set_xticklabels(tick_labels)
        ax.set_yticks(Y_TICKS[r])
        ax.set_yticklabels([('%g' % v) for v in Y_TICKS[r]])

        ax.tick_params(direction='in', top=True, right=True, length=4, width=0.6,
                       colors=DARK, labelsize=12)
        ax.tick_params(axis='x', pad=8.5)
        ax.tick_params(axis='y', pad=7)
        for sp in ax.spines.values():
            sp.set_color(DARK)
            sp.set_linewidth(0.6)
        ax.grid(True, color='#e3e3e3', linewidth=0.6)
        ax.set_axisbelow(True)

        title = '%s) %s keV' % (LETTERS[3 * r + c], ENERGIES[r])
        if r == 0:
            title = 'L* = %s+-0.1\n' % L_VALUES[c] + title
        ax.set_title(title, fontsize=12, fontweight='bold', pad=4, linespacing=1.25)

        if r == 2:
            ax.set_xlabel('time', fontsize=12, labelpad=3, color=DARK)

        leg = ax.legend(loc='lower right', bbox_to_anchor=(0.958, 0.05), borderaxespad=0,
                        ncol=2, fontsize=11.5, markerscale=1.0, handlelength=1.4,
                        handletextpad=0.3, columnspacing=1.5, borderpad=0.2,
                        fancybox=False, framealpha=1)
        leg.get_frame().set_edgecolor(DARK)
        leg.get_frame().set_linewidth(0.6)

fig.text(20 / 1302, 1 - 378 / 757, 'log10 of spin-averaged flux, 1/(cm$^2$ s sr keV)',
         rotation=90, ha='center', va='center', fontsize=12, color=DARK)

fig.savefig('out.png', dpi=100)
